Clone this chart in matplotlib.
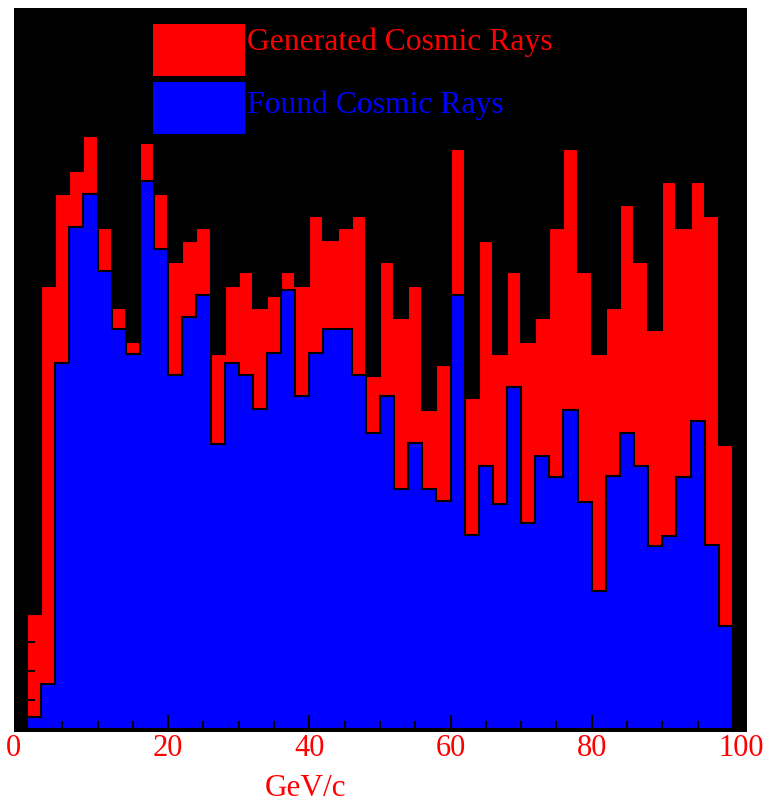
import numpy as np
import matplotlib
matplotlib.use("Agg")
import matplotlib.pyplot as plt
from matplotlib.patches import Rectangle
from matplotlib.transforms import ScaledTranslation

plt.rcParams['font.family'] = ['Liberation Serif', 'DejaVu Serif']

# bin edges in GeV/c (50 bins of 2)
edges = np.arange(0, 101, 2)

# generated cosmic rays per bin
generated = [20.0, 77.5, 93.7, 97.7, 103.9, 87.7, 73.7, 67.7, 102.6, 93.7,
             81.8, 85.4, 87.7, 65.6, 77.5, 80.0, 73.7, 75.8, 80.0, 77.5,
             89.8, 85.6, 87.7, 89.8, 61.8, 81.8, 71.9, 77.5, 55.8, 63.7,
             101.6, 57.9, 85.4, 65.6, 80.0, 67.7, 71.9, 87.7, 101.6, 80.0,
             65.6, 73.7, 91.8, 81.8, 69.8, 95.8, 87.7, 95.8, 89.8, 49.6]

# found cosmic rays per bin
found = [1.9, 7.7, 64.0, 87.9, 93.7, 80.2, 70.0, 65.6, 96.0, 84.0,
         61.9, 72.1, 76.0, 49.8, 64.0, 61.9, 56.0, 65.8, 76.8, 58.2,
         65.8, 70.0, 70.0, 61.9, 51.8, 58.2, 41.9, 50.0, 41.9, 39.8,
         76.0, 33.9, 46.0, 39.3, 59.8, 36.0, 47.7, 44.0, 55.8, 39.6,
         24.0, 44.2, 51.8, 46.0, 31.9, 33.7, 44.0, 53.9, 32.1, 17.9]

labels = ["Generated Cosmic Rays", "Found Cosmic Rays"]
colors = ["#ff0000", "#0000ff"]

fig = plt.figure(figsize=(7.66, 8.04), dpi=100)
ax = fig.add_axes([14 / 766, 1 - 733 / 804, 733 / 766, 724 / 804])
ax.set_facecolor("black")
for s in ax.spines.values():
    s.set_visible(False)

ax.stairs(generated, edges, fill=True, facecolor=colors[0], edgecolor="black",
          linewidth=1.5, baseline=0)
ax.stairs(found, edges, fill=True, facecolor=colors[1], edgecolor="black",
          linewidth=1.5, baseline=0)

ax.set_xlim(-1.84, 102.0)
ax.set_ylim(-0.7, 126.3)

ax.set_xticks(np.arange(0, 101, 20))
ax.set_xticks(np.arange(0, 101, 5), minor=True)
ax.set_yticks(np.arange(5, 126, 5))
ax.set_yticklabels([])
ax.tick_params(axis="x", which="major", direction="in", length=12.2, width=1.5,
               color="black", labelcolor="red", labelsize=22, pad=1)
ax.tick_params(axis="x", which="minor", direction="in", length=7.9, width=1.5,
               color="black")
ax.tick_params(axis="y", which="major", direction="in", length=15, width=1.5,
               color="black")

# first and last tick labels sit a bit outside
tl = ax.get_xticklabels()
tl[0].set_transform(tl[0].get_transform() + ScaledTranslation(-14 / 100, 0, fig.dpi_scale_trans))
tl[-1].set_transform(tl[-1].get_transform() + ScaledTranslation(8 / 100, 0, fig.dpi_scale_trans))

ax.set_xlabel("GeV/c", color="red", fontsize=22.5)
ax.xaxis.label.set_va("baseline")
ax.xaxis.set_label_coords(0.398, -0.087)

# legend boxes drawn by hand
ax.add_patch(Rectangle((0.1896, 0.9061), 0.1255, 0.0718, transform=ax.transAxes,
                       facecolor=colors[0], edgecolor="none", zorder=5))
ax.add_patch(Rectangle((0.1896, 0.8260), 0.1255, 0.0718, transform=ax.transAxes,
                       facecolor=colors[1], edgecolor="none", zorder=5))
ax.text(0.3179, (733 - 50) / 724, labels[0], transform=ax.transAxes, color=colors[0],
        fontsize=22.8, va="baseline", ha="left", zorder=6)
ax.text(0.3179, (733 - 113) / 724, labels[1], transform=ax.transAxes, color=colors[1],
        fontsize=22.8, va="baseline", ha="left", zorder=6)

plt.savefig("out.png", dpi=100, facecolor="white")
